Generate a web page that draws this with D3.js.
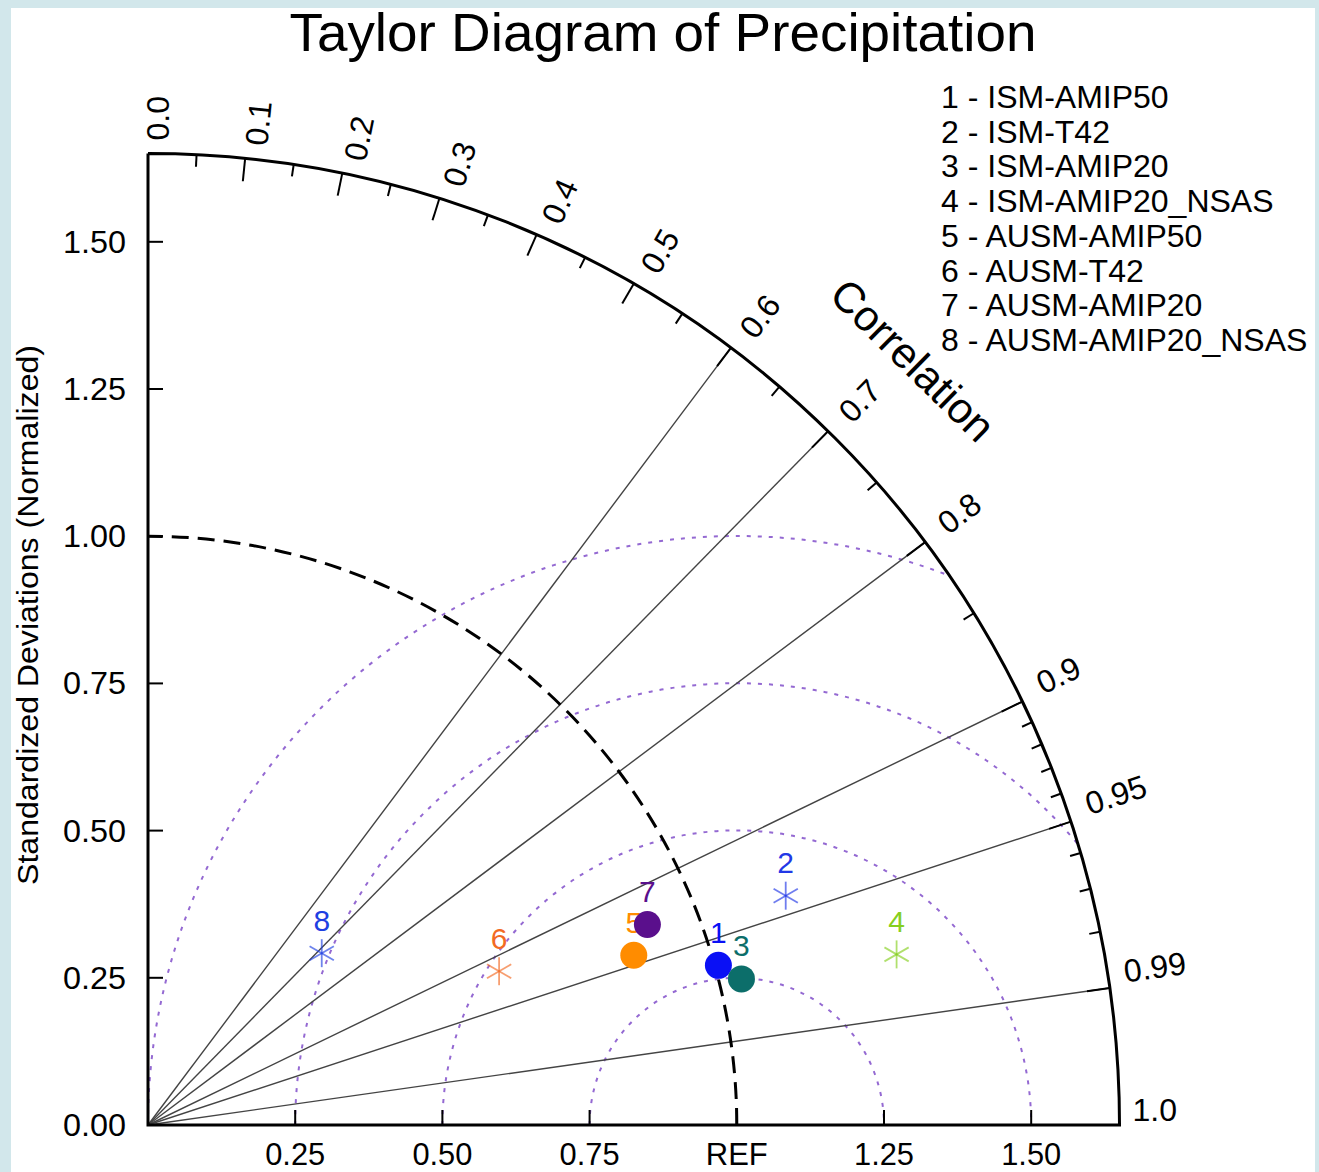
<!DOCTYPE html>
<html><head><meta charset="utf-8">
<script src="https://cdn.jsdelivr.net/npm/d3@7"></script>
<style>
html,body{margin:0;padding:0;background:#d2e7eb;}
svg{display:block;}
text{font-family:"Liberation Sans", Arial, Helvetica, sans-serif;}
</style></head><body>
<svg id="chart" width="1319" height="1172"></svg>
<script>
// ---- data ----
const modelNames = ["ISM-AMIP50","ISM-T42","ISM-AMIP20","ISM-AMIP20_NSAS","AUSM-AMIP50","AUSM-T42","AUSM-AMIP20","AUSM-AMIP20_NSAS"];
const stdDevs = [1.006, 1.151, 1.038, 1.304, 0.874, 0.651, 0.914, 0.415];
const correlations = [0.963, 0.941, 0.971, 0.975, 0.944, 0.916, 0.928, 0.711];
const markerTypes = ["circle","star","circle","star","circle","star","circle","star"];
const markerColors = ["#0a10f5","#2238e6","#0c6e6a","#86cf1e","#ff8c00","#f26a24","#5a0f8c","#1e40e2"];
const sdTicks = [0, 0.25, 0.5, 0.75, 1.0, 1.25, 1.5];
const sdTickLabels = ["0.00","0.25","0.50","0.75","1.00","1.25","1.50"];
const xTicks = [0.25, 0.5, 0.75, 1.0, 1.25, 1.5];
const xTickLabels = ["0.25","0.50","0.75","REF","1.25","1.50"];
const corrLabelValues = [0, 0.1, 0.2, 0.3, 0.4, 0.5, 0.6, 0.7, 0.8, 0.9, 0.95, 0.99, 1.0];
const corrLabels = ["0.0","0.1","0.2","0.3","0.4","0.5","0.6","0.7","0.8","0.9","0.95","0.99","1.0"];
const corrLines = [0.6, 0.7, 0.8, 0.9, 0.95, 0.99];
const corrMajor = [0.1, 0.2, 0.3, 0.4, 0.5, 0.6, 0.7, 0.8, 0.9, 0.95, 0.99];
const corrMinor = [0.05, 0.15, 0.25, 0.35, 0.45, 0.55, 0.65, 0.75, 0.85, 0.91, 0.92, 0.93, 0.94, 0.96, 0.97, 0.98];
const rmsRadii = [0.25, 0.5, 0.75, 1.0];
const sdMax = 1.65;

// ---- layout ----
const svg = d3.select("#chart");
const cx = 148, cy = 1125;
const r = d3.scaleLinear().domain([0, sdMax]).range([0, 971.5]);
const R = r(sdMax);
const pt = (sd, c) => { const a = Math.acos(c); return [cx + r(sd) * Math.cos(a), cy - r(sd) * Math.sin(a)]; };

svg.append("rect").attr("x", 11).attr("y", 8).attr("width", 1304).attr("height", 1170).attr("fill", "#fff");

// clip
const defs = svg.append("defs");
defs.append("clipPath").attr("id", "quad").append("path")
  .attr("d", `M${cx},${cy} L${cx + R},${cy} A${R},${R} 0 0 0 ${cx},${cy - R} Z`);

// RMS circles
const g = svg.append("g");
const rmsG = g.append("g").attr("clip-path", "url(#quad)");
rmsRadii.forEach(rr => {
  const p = d3.path();
  p.arc(cx + r(1), cy, r(rr), Math.PI, 2 * Math.PI);
  rmsG.append("path").attr("d", p.toString()).attr("fill", "none")
    .attr("stroke", "#9469d2").attr("stroke-width", 2).attr("stroke-dasharray", "4,7");
});

// correlation lines
corrLines.forEach(c => {
  const [x2, y2] = pt(sdMax, c);
  g.append("line").attr("x1", cx).attr("y1", cy).attr("x2", x2).attr("y2", y2)
    .attr("stroke", "#444").attr("stroke-width", 1.4);
});

// REF arc
{
  const p = d3.path();
  p.arc(cx, cy, r(1), 0, -Math.PI / 2, true);
  g.append("path").attr("d", p.toString()).attr("fill", "none")
    .attr("stroke", "#000").attr("stroke-width", 3).attr("stroke-dasharray", "17,9");
}

// outer arc + axes
{
  const p = d3.path();
  p.moveTo(cx, cy - R);
  p.lineTo(cx, cy);
  p.lineTo(cx + R, cy);
  p.arc(cx, cy, R, 0, -Math.PI / 2, true);
  g.append("path").attr("d", p.toString()).attr("fill", "none")
    .attr("stroke", "#000").attr("stroke-width", 3).attr("stroke-linejoin", "miter");
}

// arc ticks
function arcTick(c, len) {
  const a = Math.acos(c);
  g.append("line")
    .attr("x1", cx + R * Math.cos(a)).attr("y1", cy - R * Math.sin(a))
    .attr("x2", cx + (R - len) * Math.cos(a)).attr("y2", cy - (R - len) * Math.sin(a))
    .attr("stroke", "#000").attr("stroke-width", 2);
}
corrMajor.forEach(c => arcTick(c, 23));
corrMinor.forEach(c => arcTick(c, c > 0.9 ? 11 : 12));

// correlation labels
corrLabelValues.forEach((c, i) => {
  const a = Math.acos(c);
  const rr = R + 13;
  const x = cx + rr * Math.cos(a) + 10 * Math.sin(a);
  const y = cy - rr * Math.sin(a) - 15 * Math.pow(Math.cos(a), 3);
  g.append("text").attr("x", 0).attr("y", 0)
    .attr("transform", `translate(${x},${y}) rotate(${-a * 180 / Math.PI})`)
    .attr("dominant-baseline", "central").attr("font-size", 32)
    .style("fill", "#000")
    .text(corrLabels[i]);
});

// "Correlation" label
{
  const a = Math.PI / 4;
  const rr = r(1.83);
  g.append("text")
    .attr("transform", `translate(${cx + rr * Math.cos(a) + 3},${cy - rr * Math.sin(a) - 3}) rotate(44.5)`)
    .attr("text-anchor", "middle").attr("dominant-baseline", "central")
    .attr("font-size", 43).style("fill", "#000").text("Correlation");
}

// y axis ticks & labels
sdTicks.forEach((v, i) => {
  const y = cy - r(v);
  if (v > 0) g.append("line").attr("x1", cx).attr("x2", cx + 15).attr("y1", y).attr("y2", y)
    .attr("stroke", "#000").attr("stroke-width", 2);
  g.append("text").attr("x", 126).attr("y", y).attr("text-anchor", "end")
    .attr("dominant-baseline", "central").attr("font-size", 32)
    .attr("textLength", 63).attr("lengthAdjust", "spacingAndGlyphs")
    .style("fill", "#000").text(sdTickLabels[i]);
});

// x axis ticks & labels
xTicks.forEach((v, i) => {
  const x = cx + r(v);
  g.append("line").attr("x1", x).attr("x2", x).attr("y1", cy).attr("y2", cy - 15)
    .attr("stroke", "#000").attr("stroke-width", 2);
  g.append("text").attr("x", x).attr("y", 1165).attr("text-anchor", "middle")
    .attr("font-size", 32).attr("textLength", xTickLabels[i] === "REF" ? 62 : 60)
    .attr("lengthAdjust", "spacingAndGlyphs")
    .style("fill", "#000").text(xTickLabels[i]);
});

// y axis title
g.append("text").attr("transform", "translate(38,615) rotate(-90)")
  .attr("text-anchor", "middle").attr("font-size", 29)
  .attr("textLength", 540).attr("lengthAdjust", "spacingAndGlyphs")
  .style("fill", "#000")
  .text("Standardized Deviations (Normalized)");

// title
svg.append("text").attr("x", 663).attr("y", 51).attr("text-anchor", "middle")
  .attr("font-size", 54).attr("textLength", 747).attr("lengthAdjust", "spacingAndGlyphs")
  .style("fill", "#000")
  .text("Taylor Diagram of Precipitation");

// legend
modelNames.forEach((n, i) => {
  svg.append("text").attr("x", 941).attr("y", 97 + i * 34.7).attr("dominant-baseline", "central")
    .attr("font-size", 32).style("fill", "#000").text(`${i + 1} - ${n}`);
});

// markers
const mg = svg.append("g");
modelNames.forEach((n, i) => {
  const [x, y] = pt(stdDevs[i], correlations[i]);
  const col = markerColors[i];
  if (markerTypes[i] === "circle") {
    mg.append("circle").attr("cx", x).attr("cy", y).attr("r", 13.5).attr("fill", col);
  } else {
    [90, 30, 150].forEach(d => {
      const t = d * Math.PI / 180, L = 14;
      mg.append("line").attr("x1", x - L * Math.cos(t)).attr("y1", y - L * Math.sin(t))
        .attr("x2", x + L * Math.cos(t)).attr("y2", y + L * Math.sin(t))
        .attr("stroke", col).attr("stroke-opacity", 0.65).attr("stroke-width", 1.8);
    });
  }
  mg.append("text").attr("x", x).attr("y", y - 33).attr("text-anchor", "middle")
    .attr("dominant-baseline", "central").attr("font-size", 30).style("fill", col)
    .text(i + 1);
});
</script></body></html>
